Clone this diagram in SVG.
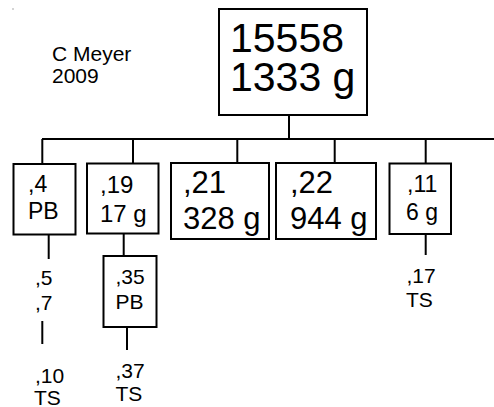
<svg xmlns="http://www.w3.org/2000/svg" width="494" height="407" viewBox="0 0 494 407">
<style>
.box{fill:#fff;stroke:#000;stroke-width:2}
.ln{stroke:#000;stroke-width:2;fill:none}
text{font-family:"Liberation Sans",Arial,sans-serif;fill:#000}
.f42{font-size:41px}.f31{font-size:31px}.f24{font-size:24px}.f23{font-size:23px}.f21{font-size:21px}
</style>
<rect width="494" height="407" fill="#fff"/>
<circle cx="13" cy="9" r="0.7" fill="#888"/>
<text class="f21" x="52" y="61">C Meyer</text>
<text class="f21" x="52" y="83">2009</text>
<g id="connectors">
<line class="ln" x1="289" y1="115" x2="289" y2="139"/>
<line class="ln" x1="42" y1="139" x2="494" y2="139"/>
<line class="ln" x1="42.3" y1="139" x2="42.3" y2="164"/>
<line class="ln" x1="133" y1="139" x2="133" y2="163"/>
<line class="ln" x1="237.3" y1="139" x2="237.3" y2="163"/>
<line class="ln" x1="334.7" y1="139" x2="334.7" y2="163"/>
<line class="ln" x1="425.7" y1="139" x2="425.7" y2="163"/>
<line class="ln" x1="48.7" y1="235" x2="48.7" y2="259"/>
<line class="ln" x1="42.3" y1="321" x2="42.3" y2="344"/>
<line class="ln" x1="123.7" y1="234" x2="123.7" y2="256"/>
<line class="ln" x1="127" y1="327" x2="127" y2="350"/>
<line class="ln" x1="425.7" y1="234" x2="425.7" y2="255"/>
</g>
<g id="root">
<rect class="box" x="219" y="9" width="148" height="106"/>
<text class="f42" x="230" y="52">15558</text>
<text class="f42" x="230" y="91">1333 g</text>
</g>
<g id="n4">
<rect class="box" x="13.5" y="164" width="62" height="70.5"/>
<text class="f23" x="28" y="192">,4</text>
<text class="f23" x="28" y="219">PB</text>
</g>
<g id="n5">
<text class="f21" x="35" y="285">,5</text>
<text class="f21" x="35" y="310">,7</text>
</g>
<g id="n10">
<text class="f21" x="35" y="383">,10</text>
<text class="f21" x="34" y="405">TS</text>
</g>
<g id="n19">
<rect class="box" x="87" y="163.5" width="71.5" height="70"/>
<text class="f24" x="100" y="193">,19</text>
<text class="f24" x="100" y="221.5">17 g</text>
</g>
<g id="n35">
<rect class="box" x="103.5" y="256" width="53" height="71"/>
<text class="f21" x="115.5" y="284">,35</text>
<text class="f21" x="115.5" y="308.5">PB</text>
</g>
<g id="n37">
<text class="f21" x="115.5" y="378">,37</text>
<text class="f21" x="115.5" y="400.5">TS</text>
</g>
<g id="n21">
<rect class="box" x="171" y="163" width="98" height="76"/>
<text class="f31" x="183" y="193">,21</text>
<text class="f31" x="183" y="229">328 g</text>
</g>
<g id="n22">
<rect class="box" x="276" y="163" width="100" height="76"/>
<text class="f31" x="290" y="193">,22</text>
<text class="f31" x="290" y="229">944 g</text>
</g>
<g id="n11">
<rect class="box" x="389.5" y="163.5" width="61.5" height="70.5"/>
<text class="f23" x="407" y="192">,11</text>
<text class="f23" x="406" y="220">6 g</text>
</g>
<g id="n17">
<text class="f21" x="406.5" y="283">,17</text>
<text class="f21" x="406" y="306.5">TS</text>
</g>
</svg>
